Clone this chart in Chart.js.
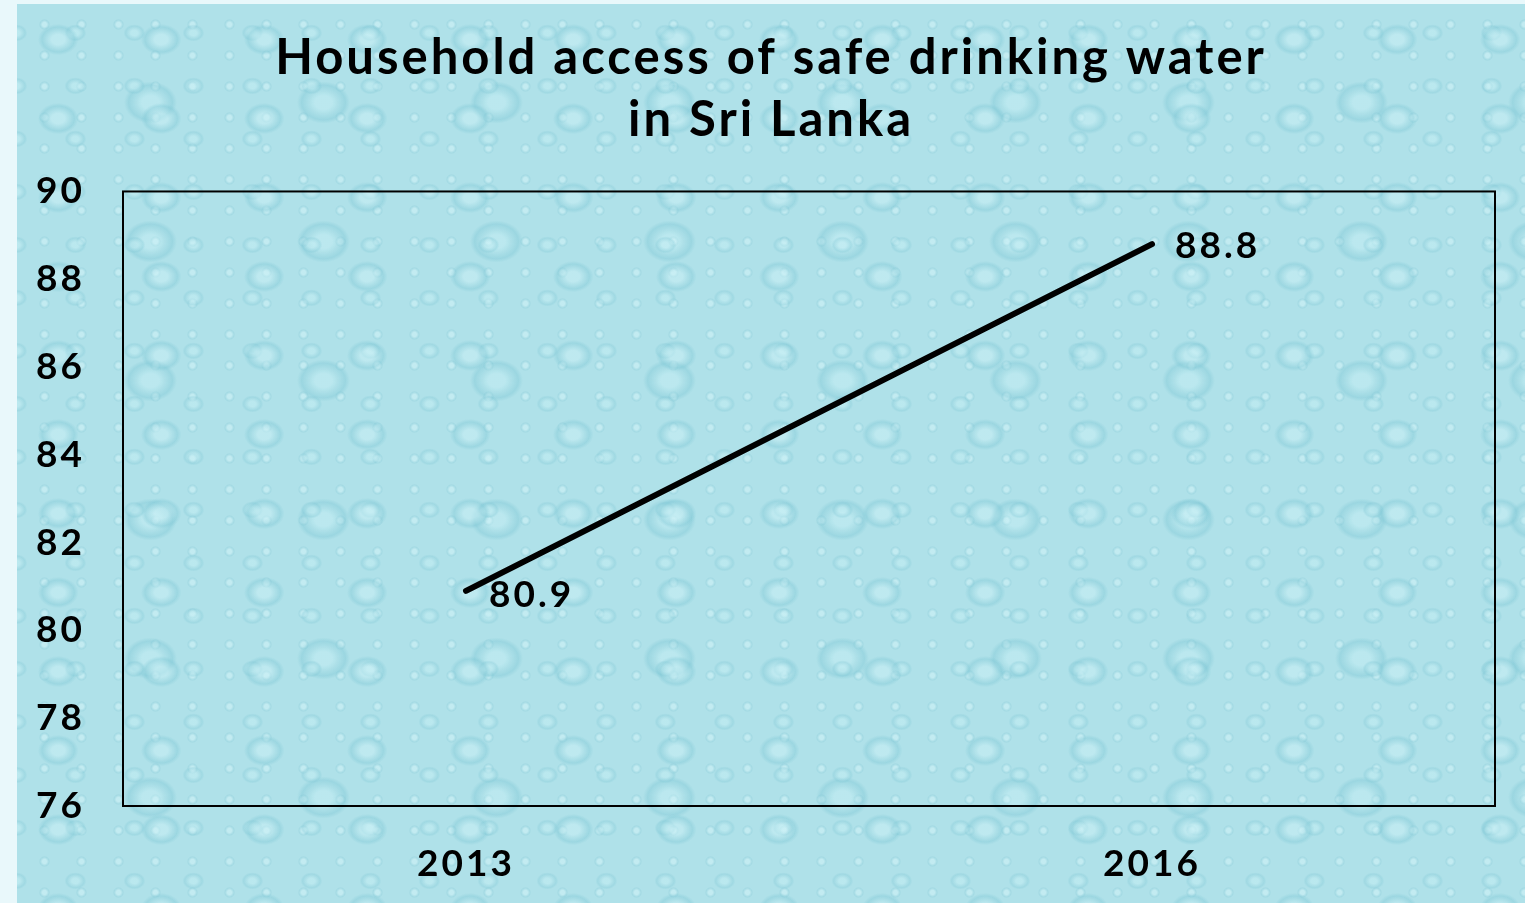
<!DOCTYPE html>
<html>
<head>
<meta charset="utf-8">
<script src="https://cdn.jsdelivr.net/npm/chart.js@4/dist/chart.umd.min.js"></script>
<style>
  html, body { margin: 0; padding: 0; }
  body {
    width: 1525px; height: 903px; overflow: hidden;
    background: #e9f8fb;
    position: relative;
  }
  #panel {
    position: absolute; left: 17px; top: 4px; width: 1508px; height: 899px;
    background-color: #afe1e9;
    background-image:
      radial-gradient(ellipse 26px 20px at 40% 45%, rgba(205,241,246,0.5) 0 25%, rgba(125,198,212,0.38) 62%, transparent 78%),
      radial-gradient(ellipse 14px 11px at 60% 30%, rgba(200,240,245,0.45) 0 25%, rgba(128,199,213,0.32) 62%, transparent 78%),
      radial-gradient(ellipse 34px 27px at 50% 50%, rgba(205,242,247,0.4) 0 25%, rgba(118,194,209,0.35) 64%, transparent 78%),
      radial-gradient(circle 7px at 50% 50%, rgba(214,245,249,0.5) 0 30%, rgba(135,202,215,0.3) 65%, transparent 80%);
    background-size: 103px 79px, 59px 53px, 173px 139px, 37px 31px;
    background-position: 0 0, 23px 13px, 47px 29px, 9px 5px;
  }
  #wrap { position: absolute; left: 0; top: 0; width: 1508px; height: 899px; }
</style>
</head>
<body>
<div id="panel">
  <div id="wrap"><canvas id="linechart"></canvas></div>
</div>
<script>
const years = ['2013', '2016'];
const accessValues = [80.9, 88.8];
const titleLines = ['Household access of safe drinking water', 'in Sri Lanka'];

const FONT = "Lato, 'DejaVu Sans', sans-serif";

// wider letters, closer to the original typeface
const spacing = {
    id: 'spacing',
    beforeDraw(chart) { chart.ctx.letterSpacing = '3px'; }
};

// y labels hang out past the left padding, so don't clip them there
const unclipY = {
    id: 'unclipY',
    afterLayout(chart) { chart.scales.y.left = 0; }
};

// box around the plot area
const plotFrame = {
    id: 'plotFrame',
    afterDraw(chart) {
        const { ctx, chartArea } = chart;
        ctx.save();
        ctx.strokeStyle = '#000';
        ctx.lineWidth = 2;
        ctx.strokeRect(chartArea.left, chartArea.top, chartArea.right - chartArea.left, chartArea.bottom - chartArea.top);
        ctx.restore();
    }
};

// value labels beside each point
const valueLabels = {
    id: 'valueLabels',
    afterDatasetsDraw(chart) {
        const { ctx } = chart;
        const meta = chart.getDatasetMeta(0);
        ctx.save();
        ctx.fillStyle = '#000';
        ctx.font = 'bold 37px ' + FONT;
        ctx.textAlign = 'left';
        ctx.textBaseline = 'middle';
        meta.data.forEach((pt, i) => {
            const dy = i === 0 ? 4 : 2;
            ctx.fillText(accessValues[i].toFixed(1), pt.x + 23, pt.y + dy);
        });
        ctx.restore();
    }
};

const ctx = document.getElementById('linechart').getContext('2d');

const myLineChart = new Chart(ctx, {
    type: 'line',
    data: {
        labels: years,
        datasets: [{
            label: 'Household access',
            data: accessValues,
            borderColor: '#000',
            borderWidth: 6,
            borderCapStyle: 'round',
            tension: 0,
            fill: false,
            pointRadius: 0
        }]
    },
    options: {
        responsive: true,
        maintainAspectRatio: false,
        animation: false,
        layout: { padding: { left: 30, right: 30, top: 0, bottom: 0 } },
        plugins: {
            legend: { display: false },
            tooltip: { enabled: false },
            title: {
                display: true,
                text: titleLines,
                color: '#000',
                font: { family: FONT, size: 49, weight: 'bold', lineHeight: 1.27 },
                padding: { top: 23, bottom: 40 }
            }
        },
        scales: {
            x: {
                offset: true,
                grid: { display: false, drawTicks: false },
                border: { display: false },
                ticks: {
                    color: '#000',
                    padding: 36,
                    font: { family: FONT, size: 37, weight: 'bold' }
                },
                afterFit(scale) { scale.height = 97; }
            },
            y: {
                min: 76,
                max: 90,
                grid: { display: false, drawTicks: false },
                border: { display: false },
                ticks: {
                    stepSize: 2,
                    color: '#000',
                    padding: 38,
                    font: { family: FONT, size: 37, weight: 'bold' }
                },
                afterFit(scale) { scale.width = 76; }
            }
        }
    },
    plugins: [spacing, unclipY, plotFrame, valueLabels]
});
</script>
</body>
</html>
